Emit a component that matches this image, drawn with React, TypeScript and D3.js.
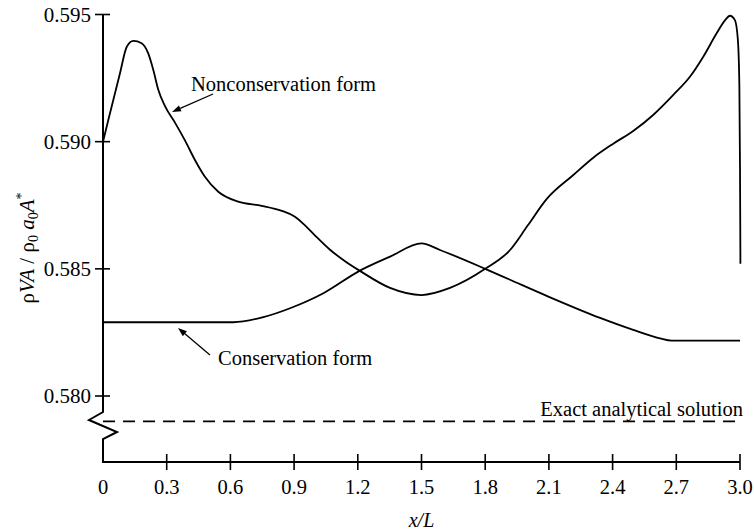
import React from "react";
import * as d3 from "d3";

// Nonconservation form
const xNon = [0, 0.025, 0.08, 0.112, 0.143, 0.182, 0.213, 0.237, 0.26, 0.292, 0.339, 0.386, 0.433, 0.48, 0.543, 0.637, 0.747, 0.842, 0.904, 0.95, 1.0, 1.069, 1.14, 1.21, 1.352, 1.5, 1.634, 1.8, 1.917, 2.0, 2.09, 2.215, 2.309, 2.403, 2.497, 2.591, 2.686, 2.765, 2.827, 2.89, 2.93, 2.953, 2.976, 2.99, 2.997, 3.0, 3.002];
const yNon = [0.59, 0.59085, 0.59269, 0.59373, 0.59396, 0.59387, 0.59347, 0.59282, 0.59205, 0.5914, 0.59075, 0.59005, 0.58928, 0.58862, 0.58803, 0.58764, 0.58748, 0.58728, 0.58705, 0.58672, 0.5863, 0.58575, 0.5853, 0.58492, 0.58425, 0.58397, 0.58425, 0.585, 0.58574, 0.5867, 0.58775, 0.58869, 0.58937, 0.58992, 0.59042, 0.59105, 0.59184, 0.59256, 0.59334, 0.59426, 0.59478, 0.59495, 0.59478, 0.594, 0.5922, 0.589, 0.5852];

// Conservation form
const xCon = [0, 0.3, 0.614, 0.755, 0.881, 1.038, 1.21, 1.352, 1.5, 1.587, 1.8, 1.917, 2.1, 2.341, 2.497, 2.623, 2.678, 2.8, 3.0];
const yCon = [0.5829, 0.5829, 0.5829, 0.5831, 0.58345, 0.58404, 0.58493, 0.58548, 0.586, 0.58574, 0.585, 0.58457, 0.5839, 0.58307, 0.5826, 0.58227, 0.58218, 0.58218, 0.58218];

// Exact analytical solution
const exactValue = 0.579;
const exactX = [0, 3.0];

const xTicks = [0, 0.3, 0.6, 0.9, 1.2, 1.5, 1.8, 2.1, 2.4, 2.7, 3.0];
const xTickLabels = ["0", "0.3", "0.6", "0.9", "1.2", "1.5", "1.8", "2.1", "2.4", "2.7", "3.0"];
const yTicks = [0.58, 0.585, 0.59, 0.595];
const yTickLabels = ["0.580", "0.585", "0.590", "0.595"];

const FONT = "'Liberation Serif', 'Times New Roman', serif";

export default function App() {
  const x = d3.scaleLinear().domain([0, 3]).range([103, 740]);
  const y = d3.scaleLinear().domain([0.58, 0.595]).range([396, 14.5]);
  const x0 = x(0);
  const yBottom = y(0.58);
  const xAxisY = yBottom + 66;

  const line = d3
    .line<[number, number]>()
    .x((d) => x(d[0]))
    .y((d) => y(d[1]))
    .curve(d3.curveMonotoneX);

  const nonPts = xNon.map((v, i) => [v, yNon[i]] as [number, number]);
  const conPts = xCon.map((v, i) => [v, yCon[i]] as [number, number]);
  const exactPts = exactX.map((v) => [v, exactValue] as [number, number]);

  const yAxisPath = [
    [x0, y(0.595)],
    [x0, yBottom + 16],
    [x0 - 14, yBottom + 24],
    [x0 + 14, yBottom + 36],
    [x0, yBottom + 43],
    [x0, xAxisY],
    [x(3), xAxisY],
  ]
    .map((p, i) => (i === 0 ? "M" : "L") + p[0] + "," + p[1])
    .join("");

  const arrow = (x1: number, y1: number, x2: number, y2: number) => {
    const ang = Math.atan2(y2 - y1, x2 - x1);
    const L = 9;
    const W = 3.2;
    const bx = x2 - L * Math.cos(ang);
    const by = y2 - L * Math.sin(ang);
    const px = -Math.sin(ang) * W;
    const py = Math.cos(ang) * W;
    return (
      <g>
        <line x1={x1} y1={y1} x2={bx} y2={by} stroke="#000" strokeWidth={1.3} />
        <path d={`M${x2},${y2}L${bx + px},${by + py}L${bx - px},${by - py}Z`} fill="#000" />
      </g>
    );
  };

  return (
    <div style={{ position: "fixed", left: 0, top: 0 }}>
      <svg width={754} height={532} style={{ display: "block", background: "#fff" }} fontFamily={FONT}>
        {/* axes */}
        <path d={yAxisPath} fill="none" stroke="#000" strokeWidth={2} strokeLinejoin="miter" />
        {yTicks.map((t, i) => (
          <g key={"yt" + i}>
            <line x1={x0 - 8} x2={x0 + 7} y1={y(t)} y2={y(t)} stroke="#000" strokeWidth={1.6} />
            <text x={x0 - 12} y={y(t) + 7} textAnchor="end" fontSize={21}>
              {yTickLabels[i]}
            </text>
          </g>
        ))}
        {xTicks.map((t, i) => (
          <g key={"xt" + i}>
            {i > 0 && (
              <line x1={x(t)} x2={x(t)} y1={xAxisY - 8} y2={xAxisY + 8} stroke="#000" strokeWidth={1.6} />
            )}
            <text x={x(t)} y={xAxisY + 32} textAnchor="middle" fontSize={20.5}>
              {xTickLabels[i]}
            </text>
          </g>
        ))}
        <text x={x(1.5)} y={xAxisY + 65} textAnchor="middle" fontSize={20} fontStyle="italic">
          x/L
        </text>

        {/* y label */}
        <text transform={`translate(34,248) rotate(-90)`} textAnchor="middle" fontSize={21}>
          ρ<tspan fontStyle="italic">VA</tspan> / ρ
          <tspan dy={4} fontSize={14}>0</tspan>
          <tspan dy={-4}> </tspan>
          <tspan fontStyle="italic">a</tspan>
          <tspan dy={4} fontSize={14}>0</tspan>
          <tspan dy={-4} fontStyle="italic">A</tspan>
          <tspan dy={-8} fontSize={14}>*</tspan>
        </text>

        {/* curves */}
        <path d={line(nonPts) || ""} fill="none" stroke="#000" strokeWidth={1.8} />
        <path d={line(conPts) || ""} fill="none" stroke="#000" strokeWidth={1.8} />
        <path d={line(exactPts) || ""} fill="none" stroke="#000" strokeWidth={1.8} strokeDasharray="12,8" />

        {/* annotations */}
        <text x={191} y={91} fontSize={20.5}>Nonconservation form</text>
        {arrow(213, 94, 172, 112)}
        <text x={218} y={365} fontSize={20.5}>Conservation form</text>
        {arrow(210, 355, 178, 328)}
        <text x={743} y={416} textAnchor="end" fontSize={20.5}>Exact analytical solution</text>
      </svg>
    </div>
  );
}
